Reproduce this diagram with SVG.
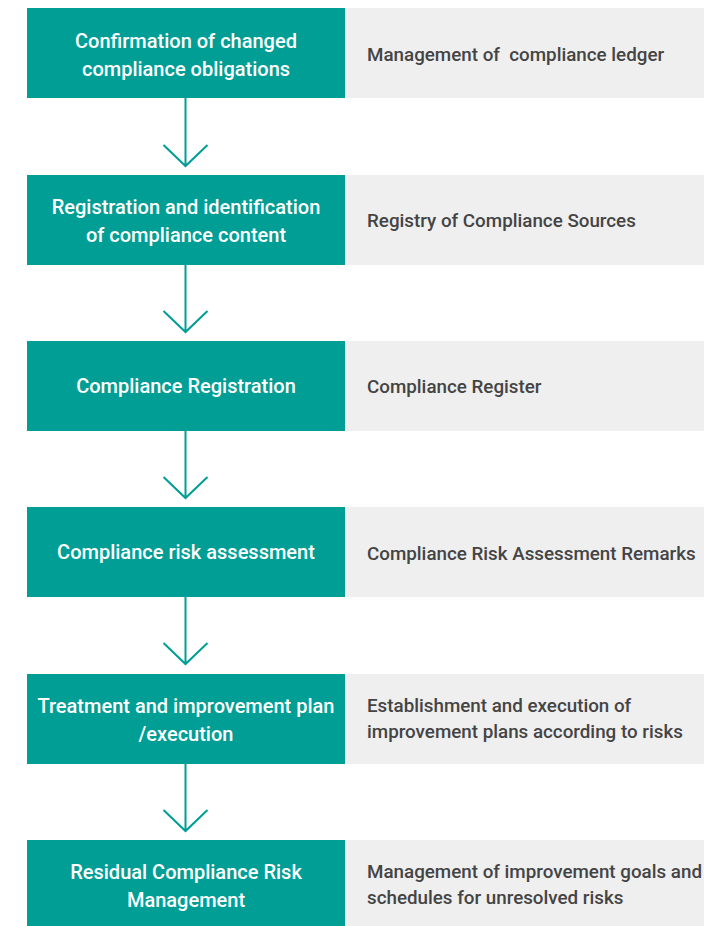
<svg xmlns="http://www.w3.org/2000/svg" width="704" height="926" viewBox="0 0 704 926">
  <style>
    .step { fill: #009E94; }
    .note { fill: #EFEFEF; }
    .stepText { font-family: Roboto, "Liberation Sans", sans-serif; font-size: 20px; font-weight: 500; fill: #FFFFFF; text-anchor: middle; }
    .noteText { font-family: Roboto, "Liberation Sans", sans-serif; font-size: 18.8px; font-weight: 500; fill: #444444; }
    .flow { fill: none; stroke: #009E94; stroke-width: 2; }
  </style>
  <rect width="704" height="926" fill="#FFFFFF"/>

  <g id="connectors">
    <path class="flow" d="M185.5 98 V166 M163.5 145 L185.5 166 L207.5 145"/>
    <path class="flow" d="M185.5 265 V332 M163.5 311 L185.5 332 L207.5 311"/>
    <path class="flow" d="M185.5 431 V498 M163.5 477 L185.5 498 L207.5 477"/>
    <path class="flow" d="M185.5 597 V664 M163.5 643 L185.5 664 L207.5 643"/>
    <path class="flow" d="M185.5 764 V831 M163.5 810 L185.5 831 L207.5 810"/>
  </g>

  <g id="row1">
    <rect class="note" x="344" y="8" width="360" height="90"/>
    <rect class="step" x="27" y="8" width="318" height="90"/>
    <text class="stepText" x="186" y="47.5">Confirmation of changed</text>
    <text class="stepText" x="186" y="75.5">compliance obligations</text>
    <text class="noteText" x="367" y="61" xml:space="preserve">Management of  compliance ledger</text>
  </g>

  <g id="row2">
    <rect class="note" x="344" y="175" width="360" height="90"/>
    <rect class="step" x="27" y="175" width="318" height="90"/>
    <text class="stepText" x="186" y="214">Registration and identification</text>
    <text class="stepText" x="186" y="242">of compliance content</text>
    <text class="noteText" x="367" y="227">Registry of Compliance Sources</text>
  </g>

  <g id="row3">
    <rect class="note" x="344" y="341" width="360" height="90"/>
    <rect class="step" x="27" y="341" width="318" height="90"/>
    <text class="stepText" x="186" y="393">Compliance Registration</text>
    <text class="noteText" x="367" y="393">Compliance Register</text>
  </g>

  <g id="row4">
    <rect class="note" x="344" y="507" width="360" height="90"/>
    <rect class="step" x="27" y="507" width="318" height="90"/>
    <text class="stepText" x="186" y="559">Compliance risk assessment</text>
    <text class="noteText" x="367" y="560">Compliance Risk Assessment Remarks</text>
  </g>

  <g id="row5">
    <rect class="note" x="344" y="674" width="360" height="90"/>
    <rect class="step" x="27" y="674" width="318" height="90"/>
    <text class="stepText" x="186" y="713">Treatment and improvement plan</text>
    <text class="stepText" x="186" y="741">/execution</text>
    <text class="noteText" x="367" y="712">Establishment and execution of</text>
    <text class="noteText" x="367" y="738">improvement plans according to risks</text>
  </g>

  <g id="row6">
    <rect class="note" x="344" y="840" width="360" height="90"/>
    <rect class="step" x="27" y="840" width="318" height="90"/>
    <text class="stepText" x="186" y="879">Residual Compliance Risk</text>
    <text class="stepText" x="186" y="907">Management</text>
    <text class="noteText" x="367" y="878">Management of improvement goals and</text>
    <text class="noteText" x="367" y="904">schedules for unresolved risks</text>
  </g>
</svg>
